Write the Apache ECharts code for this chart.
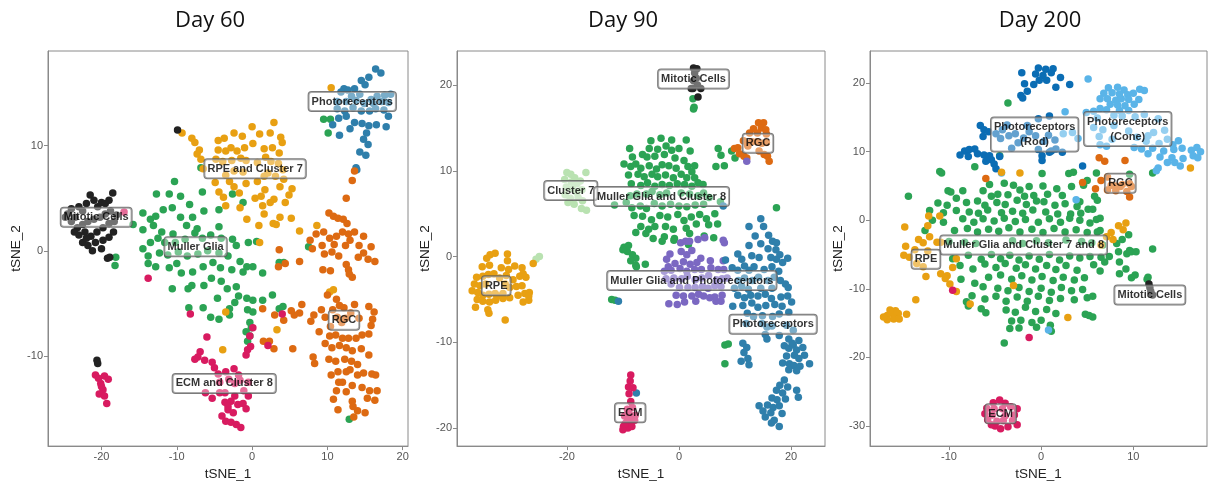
<!DOCTYPE html>
<html><head><meta charset="utf-8">
<script src="https://cdn.jsdelivr.net/npm/echarts@6/dist/echarts.min.js"></script>
<style>html,body{margin:0;padding:0;background:#fff}#c{width:1211px;height:486px}</style>
</head><body><div id="c"></div>
<script>
// ---------------- tick labels ----------------
const titles = ['Day 60', 'Day 90', 'Day 200'];
const d60XTicks = [-20, -10, 0, 10, 20];
const d60YTicks = [-10, 0, 10];
const d90XTicks = [-20, 0, 20];
const d90YTicks = [-20, -10, 0, 10, 20];
const d200XTicks = [-10, 0, 10];
const d200YTicks = [-30, -20, -10, 0, 10, 20];

// ---------------- Day 60 ----------------
const d60Mitotic = [[-24.5,3.5],[-24,4],[-23.5,3.2],[-23,4.2],[-22.5,3.8],[-22,4.5],[-21.5,5.3],[-21,4.8],[-20.5,4.2],[-20,4.6],[-19.5,4.5],[-19,4.8],[-18.5,5.5],[-18.8,3.8],[-19.5,3.5],[-20.2,3.2],[-21,3],[-21.8,2.8],[-22.5,2.5],[-23.2,2.2],[-24,2.8],[-24.8,3.2],[-23,1.5],[-22.2,1.8],[-21.4,1.4],[-20.6,1.8],[-19.8,2.2],[-19,2.6],[-18.3,2.8],[-18,3.4],[-22.5,0.8],[-21.8,0.5],[-20.8,0.8],[-19.8,1],[-19,1.3],[-18.4,1.8],[-21.2,0],[-20,0.2],[-19.2,-0.7],[-18.9,-0.6],[-22,1.2],[-23.6,1.8],[-9.9,11.5],[-20.6,-10.4],[-20.5,-10.7]];
const d60Muller = [[-10.3,6.6],[-12.7,5.4],[-11,5.4],[-9.5,5.2],[-8.3,4.4],[-6.6,5.6],[-6.4,3.8],[-4.4,3.9],[-2.6,5.4],[-1.2,4.6],[-15.8,2.5],[-14.5,3.6],[-13.5,3],[-12.8,3.3],[-11.8,3.9],[-10.6,4.1],[-9.5,3.2],[-8.7,2.4],[-7.9,3.2],[-7.3,2.1],[-14.5,2],[-13.1,2.4],[-12,1.8],[-10.5,1.6],[-13.5,0.8],[-12.5,1.2],[-11.6,0.8],[-10.2,0.8],[-8.9,1.1],[-7.6,1.7],[-6.6,1.2],[-5.5,1.5],[-4.4,2.3],[-4.1,1.2],[-2.6,1.1],[-2.1,0.5],[-0.5,0.8],[0.6,0.9],[-14.5,0.2],[-13.8,-0.5],[-12.3,-0.2],[-11.2,-0.4],[-9.8,-0.1],[-8.6,-0.5],[-7.2,-0.3],[-5.9,0],[-4.4,-0.2],[-3.2,-0.5],[-1.6,-1],[-13.8,-1.2],[-12.8,-1.5],[-11,-1.6],[-10,-1.2],[-9.4,-2.1],[-7.9,-2],[-6.5,-1.5],[-5.2,-1.1],[-4.2,-1.6],[-2.7,-1.8],[-1.2,-2],[-0.7,-1.5],[0.1,-1.5],[1.4,-2.1],[-10.6,-3.6],[-8.5,-3.6],[-8,-3.3],[-6.4,-3.3],[-5.4,-2.6],[-4.1,-2.9],[-3.3,-3.6],[-2.1,-3.4],[-1.8,-4.3],[-0.7,-4.5],[0.1,-4.7],[1.4,-4.7],[2.7,-4.2],[-8.4,-5.4],[-6.5,-5.4],[-4.6,-4.5],[-3,-5.5],[-2.3,-4.9],[-0.6,-5.6],[0.1,-5.8],[-5.5,-6.3],[-4.4,-6.5],[-3,-6.1],[-0.3,-6.8],[-0.1,-7.3],[-0.3,-8.1],[-0.6,-8.6],[3.6,-5.5],[4.1,-5.3],[-0.8,-7.7],[-18.2,-1.4],[-18.1,-0.6],[-6.8,7.9],[7.5,0.4],[9.5,12.5],[10.4,12.5],[10.1,11.2],[12.9,-16],[3.6,-1.1],[4.2,-1.1]];
const d60RPE = [[-9.3,11.2],[-8,10.7],[-7.6,10.3],[-7,9.6],[-7.3,9.2],[-6.8,8.7],[-6.5,7.8],[-4.5,10.5],[-3.7,10.7],[-2.4,11.2],[-1.3,10.9],[0,11.8],[1,11.1],[2.4,11.2],[2.9,12.2],[3.8,10.8],[4,10.3],[-4.5,9.6],[-3.5,9.5],[-2.8,9.8],[-2,9.5],[-1,9.8],[0.1,10.2],[1.6,9.7],[2.7,9.8],[3.6,9.3],[-4.8,8.7],[-3.9,8.5],[-2.7,8.6],[-1.5,8.8],[-0.8,8.6],[0.7,8.4],[1.8,8.9],[2.5,8.5],[3.5,8.3],[4.1,7.7],[-3.5,7.2],[-2.4,7.6],[-1.2,7.5],[1.6,7.1],[2.1,7.4],[3.1,7.1],[4.2,6.8],[-4.9,6.5],[-3,6.6],[-2.4,6.1],[-0.8,6.4],[0.7,6.6],[1.7,5.8],[3.7,6.1],[5.3,5.9],[-4.4,5.6],[-3.8,5.1],[-1.7,5.5],[0.4,5],[1.2,5.2],[2.9,4.9],[4.9,5.3],[-3.5,4.3],[-1.6,4.1],[1.4,4.3],[2.4,4.6],[4.4,4.6],[-0.7,3],[1.6,3.5],[3.7,3.2],[5.2,3.1],[0.9,2.4],[2.8,2.6],[3.2,2.5],[6.3,1.9],[8.6,2.4],[-3.5,-5.8],[-3.9,-9.4],[3.3,-7.5],[10.3,-3.9],[10.8,-3.7],[10.5,15.5],[1.0,0.8]];
const d60Photo = [[16.4,17.3],[17.1,16.9],[15.5,16.5],[14.5,16.2],[15,15.8],[13.6,15.4],[12.2,15.4],[12.7,15.3],[11.8,15.1],[13.2,14.7],[14.3,14.9],[15.8,14.4],[16.6,14.7],[17.6,14.8],[18.4,14.9],[11.3,14.2],[12.5,14.2],[13.8,14.3],[14.9,14],[16.1,14],[17.2,14.2],[18.1,14.1],[11.3,13.5],[12.3,13.3],[13.4,13.6],[14.5,13.3],[15.6,13.3],[16.4,13.5],[17.5,13.4],[18.1,12.8],[10.7,12],[11.5,12.6],[13.6,12.2],[14.6,12.1],[15.5,11.9],[16.5,12],[17.8,11.8],[13,11.6],[15.2,11.2],[11.6,11],[14.8,10.6],[15.4,10.1],[14.3,9.4],[15.1,9.1],[13.8,7.9],[13.9,7.7],[12.5,12.8]];
const d60RGC = [[13.3,6.7],[13.6,7.6],[12.5,5],[10.2,3.6],[10.8,3.3],[11.4,3.1],[12.1,3],[12.6,2.6],[9.5,1.8],[12,1.8],[12.8,1.6],[13,1],[13.6,1.8],[14.8,1.4],[15.8,0.4],[8.5,1.6],[7.7,1],[8,0.2],[9.3,0.5],[10.3,1.2],[11.2,1.4],[10.9,0.6],[12.4,0.5],[14.2,0.5],[14.8,-0.2],[14.1,-0.6],[16.3,-1],[15.4,-0.8],[9.6,-0.3],[10.6,-0.1],[11.5,-0.5],[12.5,-1.3],[12.8,-1.8],[13.3,-2.5],[12.9,-2.2],[9.4,-1.8],[10.4,-1.9],[3.6,0.1],[3.5,-1.5],[6.3,-1],[4.4,-1.2],[10,-4.2],[11.2,-4.6],[11.6,-5.2],[12.2,-5.4],[13.6,-5.1],[15.5,-5.3],[16.2,-5.8],[10.7,-5.6],[9.2,-5.6],[9.7,-6.3],[11.3,-6.3],[12.4,-6.4],[13.1,-5.9],[6.6,-5.1],[6.3,-5.9],[5.6,-6.1],[5.2,-5.7],[8.2,-6.1],[7.8,-6.7],[10.4,-7.2],[11.9,-6.8],[14.2,-6.4],[15.8,-7.1],[16,-6.5],[8.9,-7.7],[10.3,-8.1],[11.1,-8],[12,-8.3],[12.8,-8.3],[13.8,-8.3],[14.6,-8],[15.5,-7.9],[9.7,-8.8],[10.6,-9.2],[11.6,-9],[12.5,-9.2],[13.3,-9.5],[14.5,-9.3],[15.5,-9.9],[10.2,-10.3],[11.1,-10.5],[12.3,-10.3],[13.2,-10.5],[14,-10.8],[8.1,-10.1],[8.3,-10.7],[11.4,-11.5],[12.5,-11.5],[13,-11.3],[14,-11.8],[14.8,-11.6],[15.9,-11.7],[16.4,-11.8],[10.5,-11.8],[12,-12.5],[11.5,-12.5],[13.3,-12.8],[14.6,-13],[15.6,-13.3],[16.6,-13.3],[11.2,-13.3],[12.5,-13.4],[10.8,-14.1],[13.3,-14.3],[15.3,-14],[16.3,-14.2],[14,-15.2],[15,-15.4],[13.5,-15.8],[11.4,-15.1],[13.4,-14.8],[1.5,-8.6],[2.3,-8.6],[2.9,-9.3],[5.4,-9.3],[3,-6.1],[1.4,-5.5],[4.2,-6.6]];
const d60ECM = [[-8.2,-6],[-13.8,-2.6],[0.1,-7.3],[-0.3,-8.1],[-6.0,-8.2],[4,-6],[2.1,-9],[-0.6,-9.4],[-0.2,-9.1],[-0.8,-9.9],[-6.9,-9.6],[-7.2,-10.1],[-7.6,-10.3],[-6.3,-10.4],[-5.3,-10.6],[-5,-11.1],[-4.5,-11.7],[-3.5,-11.5],[-2.4,-11.2],[-1.8,-11.8],[-3.1,-12.2],[-2.3,-12.6],[-4.3,-12.5],[-1.6,-12.3],[-0.5,-12.5],[-6.2,-13.5],[-4.3,-13.5],[-3.6,-13.5],[-2.3,-13.8],[-1.1,-13.3],[-0.5,-13.8],[-5.3,-14],[-3.6,-14.4],[-2.8,-14.3],[-1.9,-14.6],[-1.2,-14.5],[-0.8,-15],[-3.2,-15.1],[-2.5,-15.4],[-4,-15.7],[-3.5,-16.2],[-2.8,-16.3],[-2.1,-16.5],[-1.5,-16.8],[-3.2,-14.8],[-20.8,-11.8],[-20.4,-12.1],[-19.6,-11.9],[-19.1,-12.2],[-20.1,-12.6],[-19.8,-13.2],[-20.3,-13.6],[-19.6,-13.8],[-19.3,-14.5],[-20.0,-12.9],[-17,3.7]];
const d60LabelNames = ['Photoreceptors', 'RPE and Cluster 7', 'Mitotic Cells', 'Muller Glia', 'RGC', 'ECM and Cluster 8'];
const d60LabelPos = [[13.3,14.2],[0.4,7.8],[-20.7,3.2],[-7.5,0.4],[12.2,-6.6],[-3.7,-12.6]];

// ---------------- Day 90 ----------------
const d90Mitotic = [[2.6,22],[3.2,21.9],[2.8,21.4],[3.1,20.8],[2.6,20.5],[3.3,20],[2.5,19.6],[3.9,19.6],[2.2,19.6],[3.4,18.6]];
const d90Muller = [[2.5,18.4],[2.7,17.4],[2.6,17.2],[7,12.6],[7.5,11.8],[6.6,10.5],[8.1,10.6],[9.4,12.3],[10,11.5],[-5,13.5],[-3.2,13.8],[-1.3,13.6],[1.3,13.6],[-5.3,12.6],[-3.8,12.5],[-2.3,12.9],[-1.3,12.4],[0,12.6],[2,12.3],[-8.8,12.6],[-8.3,11.6],[-6.5,11.9],[-5.7,11.6],[-4.3,11.7],[-2.6,11.9],[-0.7,11.5],[0.9,11.2],[2.8,10.6],[-9.8,10.8],[-8.6,10.5],[-7.7,10.8],[-6.8,10.3],[-5.3,10.6],[-4,10.2],[-3,10.7],[-1.8,10.6],[-0.5,10.3],[1.6,10.5],[2.3,9.9],[-9,9.5],[-7.3,9.6],[-6.2,9.3],[-4.8,9.6],[-3.8,9.3],[-2.4,9.5],[-1,9.2],[0.4,9.6],[1.4,9.2],[2.8,9.2],[-8.5,8.5],[-6.8,8.3],[-5.6,8.6],[-4.3,8.2],[-3,8.4],[-1.7,8.3],[-0.3,8.5],[1,8.4],[2.3,8.2],[3.4,8.6],[4.3,8.4],[-8.7,7.1],[-7.5,7.3],[-5.8,7.3],[-4.8,7.6],[-3.4,7.2],[-2.2,7.4],[0.4,7.4],[1.9,7.3],[3.4,7.1],[4.4,7.4],[5.4,6.9],[-11.5,6],[-9.4,6.3],[-8.4,5.7],[-6.9,5.9],[-5.8,5.6],[-4.4,6.2],[-3,5.9],[-1.5,6.1],[0,5.9],[1.4,5.8],[2.9,6],[4.4,6.1],[-8,4.8],[-6.5,4.7],[-4.9,4.3],[-3.4,4.8],[-2,4.6],[-0.2,4.9],[0.9,4.2],[2.2,4.6],[3.7,4.9],[4.9,4.4],[6.4,5],[-6.8,3.5],[-5.4,3.2],[-4.3,3.5],[-2.4,3.5],[-1,3.2],[1.3,3.3],[3.1,3.8],[5.3,3.7],[6.9,3.8],[-7.7,2.8],[-5.9,2.7],[-4.6,2.1],[-2.6,2.3],[-0.8,2.1],[1.9,2.7],[4.5,2.4],[6.2,2.2],[-3,1.8],[-0.9,1.9],[1.7,1.4],[-9.8,1.1],[-9.2,0.6],[-8.3,0.2],[-7.7,-0.2],[-9,1.3],[-8.6,-0.5],[-7.7,-1],[-7.6,-1.2],[-6,-0.9],[-10,0.8],[-12,-5],[-11.4,-5.1],[8.2,-10.3],[8.8,-10.2],[8.2,-12.5],[17.4,5.7],[7.4,6.4]];
const d90RGC = [[14.2,15.6],[15.1,15.6],[14.7,15],[15.5,14.8],[13.3,14.9],[12.6,14.4],[14,14.4],[15.6,14.3],[11.5,13.5],[12.2,13.1],[13,13.4],[13.9,13.4],[14.8,13.2],[15.6,13.3],[12.3,12.9],[9.9,12.6],[10.5,12.7],[10.8,12],[11.6,11.7],[12.1,11.5],[14.3,12.3],[15.2,11.9],[15.8,11.7],[16.1,11.1]];
const d90Cluster7 = [[-20,9.8],[-19.3,9.6],[-18.6,9.2],[-16.6,9.8],[-20.4,9],[-19.2,8.7],[-18.2,8.5],[-17.6,8.8],[-20.1,8.1],[-19,7.9],[-18.3,7.5],[-17.3,7.8],[-20.3,7.2],[-19.4,6.8],[-18,6.9],[-17.2,6.5],[-19.8,6.3],[-17.4,5.6],[-16.5,5.4],[-18.7,6.1],[-24.9,0],[-25.5,-0.3]];
const d90RPE = [[-33.7,0.2],[-32.8,0.4],[-30.6,0.3],[-34.3,-0.2],[-30.6,-0.5],[-35.1,-1.2],[-33.8,-1],[-31.7,-1.3],[-30.4,-1.5],[-29.3,-1.1],[-28,-1.3],[-36.1,-2.4],[-35,-2.3],[-34,-2.1],[-33,-2],[-32,-2.5],[-30.8,-2.2],[-29.6,-2.7],[-28.4,-2.3],[-27.3,-2.4],[-36.5,-3.2],[-35.5,-3.4],[-34.5,-3.2],[-31,-3.2],[-30.2,-3.6],[-29,-3.5],[-28,-3.4],[-36.9,-4],[-35.9,-4.2],[-35,-4.5],[-33.9,-4.4],[-32.8,-4.3],[-31.4,-4.3],[-30.2,-4.8],[-28.7,-4.5],[-27.5,-4.3],[-26.7,-4.2],[-36,-5],[-35,-5.2],[-33.8,-5.3],[-32.7,-5.1],[-31.4,-4.9],[-27.8,-5.3],[-26.8,-5.1],[-36.3,-5.9],[-34.1,-6.2],[-33.9,-6.6],[-31,-7.4],[-26.8,-4.6],[-26,-0.8],[-27.8,-2],[-32.3,-4.6]];
const d90ECM = [[-8.6,-13.8],[-8.7,-14.5],[-9,-15.2],[-8.2,-15.3],[-8.9,-16],[-8.6,-16.9],[-8.3,-17.6],[-9.2,-17.8],[-8.9,-18.3],[-9.7,-18.6],[-8.5,-18.8],[-7.8,-18.5],[-9.3,-19.3],[-8.6,-19.3],[-7.9,-19.1],[-9.9,-19.8],[-9.1,-20],[-8.4,-19.8],[-10,-20.2],[-9.6,-19.5],[-8.9,-18.8]];
const d90MGPhoto = [[0.3,1.6],[1.2,1.8],[1.9,1.8],[3.4,2],[4.6,2.2],[7.9,1.9],[8.1,1.6],[-1.6,0.3],[0.4,0.6],[1.4,0.2],[2.3,0.7],[3.9,-0.2],[-2.2,-0.3],[-0.7,-0.8],[0.8,-0.6],[2,-0.9],[3.2,-0.7],[5.6,-0.5],[7.9,-0.5],[-1.9,-1.2],[-2.6,-1.7],[-1.4,-1.6],[0.2,-1.4],[1.4,-1.7],[2.8,-1.5],[4,-1.5],[5.7,-1.3],[7,-1.5],[8,-1.5],[-2.3,-2.6],[-0.9,-2.5],[0.5,-2.6],[1.5,-2.3],[2.9,-2.7],[4.1,-2.5],[5.3,-2.2],[6.7,-2.7],[8.6,-2.5],[-1.4,-3.2],[0.1,-3.6],[1.6,-3.6],[2.9,-3.6],[4.2,-3.5],[5.2,-3.7],[6.4,-3.4],[7.5,-3.5],[-0.5,-4.5],[0.8,-4.6],[2.3,-4.6],[3.5,-4.4],[4.4,-4.6],[5.5,-4.8],[6.4,-4.7],[7.7,-4.5],[-1.8,-5.5],[-0.3,-5.6],[1,-5.3],[3,-5.2],[6.6,-5.2],[7.5,-5.2],[7.7,-2.6],[12.1,11.1]];
const d90Photo = [[12.5,3.5],[14.6,4.4],[15.1,3.5],[13.6,2.4],[16,2.5],[16.7,1.8],[17.4,1.6],[12.5,1.3],[14.6,1.5],[15.9,0.9],[17.3,0.8],[18,0.2],[8.3,-0.4],[10.5,0.3],[11.2,-0.3],[13,0.1],[14.3,-0.1],[16.4,-0.1],[17.4,-0.3],[19.4,-0.2],[18.5,-0.7],[9.5,-1.3],[10.5,-1.6],[11.7,-1.1],[12.5,-1.6],[13.4,-1.2],[15.2,-1.5],[16.6,-1.2],[17.8,-1.7],[10.6,-2.8],[11.7,-2.5],[13.1,-2.8],[14.2,-2.4],[15.9,-2.8],[17,-2.4],[18.1,-2.8],[9.9,-3.7],[11.2,-3.5],[12.4,-3.8],[14.6,-3.7],[16.6,-3.7],[19.5,-3.6],[19,-3.2],[10.5,-4.5],[11.7,-4.8],[12.8,-4.5],[14.1,-4.6],[15.4,-4.4],[16.5,-4.9],[18.2,-4.7],[19.4,-4.6],[9.6,-5.8],[11.4,-5.7],[13,-5.4],[14.1,-5.9],[15.5,-5.7],[17.1,-5.6],[18.4,-5.8],[20.1,-5.3],[12.2,-6.6],[13.3,-7],[14.9,-6.9],[16.7,-7],[17.9,-6.7],[19.6,-6.5],[12,-7.8],[14.8,-7.8],[15.7,-8.2],[16.6,-8.1],[19.2,-8],[20.4,-8.6],[15.4,-9.1],[17.9,-9.2],[19.6,-9.6],[21.4,-9.8],[15.7,-9.6],[11.4,-10.1],[12.1,-10.6],[11.6,-11.2],[12.3,-11.9],[11.1,-12.2],[12.5,-12.6],[18.8,-10.4],[19.6,-10.7],[20.4,-10.3],[21,-10.9],[22.1,-10.6],[22.4,-11.5],[19.2,-11.6],[20.6,-11.5],[21.4,-11.9],[18.5,-12.4],[19.7,-12.5],[20.5,-12.7],[21.6,-12.8],[23.3,-12.5],[19.6,-13.2],[21,-13.3],[20.2,-10.1],[18.8,-14.4],[18,-15],[19.4,-15.2],[17.4,-15.6],[18.5,-15.9],[21,-15.6],[21.3,-16.4],[16.6,-16.5],[17.5,-16.7],[19,-16.6],[15.8,-17.3],[16.8,-17.6],[17.9,-17.4],[14.3,-17.4],[15,-18],[16.4,-18.2],[18.4,-18.3],[15.4,-18.7],[17,-19.1],[17.9,-19.8],[16.5,-19.4],[7.9,5.9],[-10.8,-5.2],[-7.6,-15.9]];
const d90LabelNames = ['Mitotic Cells', 'RGC', 'Cluster 7', 'Muller Glia and Cluster 8', 'RPE', 'Muller Glia and Photoreceptors', 'Photoreceptors', 'ECM'];
const d90LabelPos = [[2.6,20.7],[14.1,13.2],[-19.3,7.7],[-3.1,7.0],[-32.6,-3.4],[2.3,-2.8],[16.8,-7.9],[-8.7,-18.2]];

// ---------------- Day 200 ----------------
const d200Muller = [[-3.6,17.1],[-4.5,9.4],[-7.2,7.8],[-11.0,7.1],[-10.8,6.9],[0.1,6.8],[3.0,6.8],[3.5,7.0],[9.6,6.7],[12.1,6.9],[-5.6,5.2],[-4.0,5.4],[-3.0,5.1],[-2.3,4.4],[-1.3,4.9],[0.2,5.0],[1.7,4.6],[3.3,4.9],[4.6,5.1],[-10.1,4.3],[-9.8,4.1],[-8.5,4.3],[-6.3,4.3],[-5.4,3.5],[-4.7,3.8],[-3.6,3.7],[-1.8,3.5],[-0.8,3.6],[0.7,3.8],[2.3,3.6],[6.1,2.9],[-14.4,3.5],[-9.2,3.2],[-11.2,2.5],[-10.2,2.2],[-8.1,2.6],[-6.9,2.8],[-6.1,2.2],[-4.8,2.6],[-3.9,2.3],[-2.6,2.9],[-1.6,2.3],[-0.5,2.8],[0.3,2.7],[1.5,2.2],[2.6,2.4],[3.9,2.0],[5.1,1.6],[5.6,1.6],[-12.1,1.4],[-10.6,1.1],[-9.2,1.4],[-7.8,1.2],[-6.8,1.0],[-5.8,1.5],[-4.3,1.1],[-3.1,1.3],[-2.0,1.0],[-0.9,1.5],[0.5,1.2],[1.8,0.9],[3.2,0.9],[4.3,1.0],[-11.8,0.0],[-10.6,-0.3],[-8.5,0.2],[-7.3,-0.3],[-6.3,0.2],[-5.1,-0.1],[-4.0,0.3],[-2.8,-0.2],[-1.7,0.1],[-0.3,-0.3],[0.9,0.2],[2.1,-0.3],[3.1,0.3],[4.2,0.0],[5.3,-0.4],[6.0,0.1],[-12.6,-1.5],[-9.4,-1.5],[-8.0,-1.2],[-6.9,-1.7],[-5.7,-1.3],[-4.6,-1.6],[-3.5,-1.1],[-2.3,-1.7],[-1.0,-1.3],[0.2,-1.8],[1.4,-1.2],[2.6,-1.7],[3.8,-1.4],[5.0,-1.8],[6.4,-1.5],[-10.0,-3.1],[-8.3,-3.2],[-7.1,-3.4],[-3.1,-3.0],[-2.0,-3.4],[-0.5,-3.0],[0.8,-3.3],[2.7,-2.9],[4.4,-3.1],[5.5,-3.3],[8.2,-3.4],[-9.6,-5.6],[-7.9,-5.1],[-6.5,-5.7],[-5.4,-5.0],[-4.4,-5.6],[-3.4,-5.1],[-2.4,-5.8],[-1.3,-5.2],[-0.2,-5.7],[0.9,-5.0],[2.0,-5.8],[3.1,-5.2],[4.2,-5.5],[5.3,-5.3],[6.5,-5.4],[6.9,-6.1],[9.3,-4.9],[9.8,-4.6],[8.4,-4.6],[-8.8,-6.6],[-7.4,-7.1],[-6.1,-6.4],[-4.9,-6.9],[-3.9,-6.3],[-2.7,-7.0],[-1.7,-6.5],[-0.6,-7.1],[0.6,-6.6],[1.6,-7.2],[2.7,-6.6],[3.9,-7.3],[5.7,-6.5],[6.4,-7.4],[8.5,-7.8],[9.8,-8.4],[11.5,-8.6],[-5.7,-8.3],[-4.4,-8.0],[-3.2,-8.6],[-2.1,-8.1],[-1.0,-8.7],[0.1,-8.2],[1.3,-8.8],[2.4,-8.3],[3.6,-8.7],[4.7,-8.4],[-8.7,-8.6],[-7.2,-9.2],[-6.3,-9.7],[-4.7,-9.9],[-3.6,-10.3],[-2.4,-9.8],[-1.3,-10.4],[0.0,-9.9],[1.1,-10.5],[2.2,-9.8],[3.3,-10.3],[4.5,-10.1],[5.6,-11.1],[-7.5,-11.0],[-6.1,-11.5],[-4.9,-11.1],[-3.8,-11.8],[-2.6,-11.2],[-1.5,-11.8],[-0.3,-11.1],[0.9,-11.7],[2.1,-11.4],[3.6,-11.6],[5.0,-11.3],[-8.1,-11.9],[-7.9,-12.5],[-6.5,-12.9],[-6.0,-13.5],[-3.8,-13.1],[-2.8,-13.4],[-1.7,-12.7],[-0.6,-13.3],[0.6,-13.0],[1.6,-13.6],[4.8,-13.7],[5.2,-13.9],[5.6,-14.1],[-3.2,-14.7],[-2.2,-14.6],[-1.0,-14.9],[0.0,-14.6],[1.0,-15.3],[-3.4,-15.8],[-0.5,-15.6],[1.1,-16.2],[-4.0,-17.9],[-2.4,-15.7],[12.1,-4.2],[9.5,-2.1],[8.8,-2.8],[10.3,-4.6],[7.4,-5.3],[11.6,-8.3],[10.2,-8.0],[9.2,-7.1],[8.5,-6.1],[6.7,-3.6],[6.1,-1.7],[6.4,0.3],[9.6,-4.4],[6.0,6.9],[5.0,5.8],[5.8,3.5],[4.2,2.7]];
const d200Rod = [[-0.3,22.2],[0.5,22],[1.3,22.1],[-2.1,21.5],[-0.6,21.3],[0.2,21.1],[1.1,21.5],[-0.2,20.4],[0.6,20.4],[2.1,20.8],[-1.8,19.9],[-0.8,19.8],[1.6,19.4],[3.1,19.8],[-2.2,18.2],[-1.5,18.8],[-2,17.8],[-0.3,14.8],[0.9,15.2],[-6.6,13.8],[-6.2,13.2],[-6.3,12.2],[-1.3,12.9],[1.5,11.7],[-8.3,10.1],[-7.8,10.3],[-7.2,10.4],[-8.8,9.5],[-6.9,9.7],[-6.2,9.5],[-5.6,9.4],[-5.4,8.8],[-6,8.6],[-5.1,8.2],[-7.9,9.3],[-4.9,7.5],[-4.5,9.3],[-0.3,10.3],[0.1,9.4],[0.9,9.9],[1.6,10.4],[2.3,9.9],[0.1,8.7],[-4.9,12.6],[-5.7,12.9],[-3.2,10.5],[4.5,7.9],[-1.5,13.8],[0.8,12.4],[1.1,10.1],[-4.2,13.2],[-3.5,12.3],[-2.8,12.6],[-1.9,12],[-2.5,11.3],[-4.4,11.9],[0.3,11.5],[-0.6,12.3],[-3.7,13.9]];
const d200Cone = [[7.3,19.3],[8.3,19.4],[9,19],[10.7,19.1],[11.2,18.9],[6.8,18.5],[7.7,18.6],[8.5,18.4],[9.4,18.3],[10,18.5],[6.4,17.7],[7.2,17.7],[8.1,17.5],[8.7,17.7],[9.5,17.6],[10.6,17.6],[7.5,16.9],[8.3,16.8],[9.1,16.7],[10.1,16.9],[6.4,16.3],[7.1,16.1],[8.5,16],[9.5,16],[5.7,15.9],[7.9,15.3],[8.8,15.2],[10.2,15.1],[11.2,15.4],[4.9,15.7],[6.1,14.9],[12.7,14.8],[5.1,20.6],[2.6,15.8],[5.7,13.5],[6.7,13.2],[7.9,13.8],[9.5,13],[11.6,12.3],[12.2,12.8],[13.4,13.1],[6.3,12.2],[7.7,11.8],[10.4,12.1],[11.4,11.5],[12.8,11.2],[13.7,11.8],[14.3,11],[14.9,11.6],[10.1,10.6],[10.9,10.4],[12.1,10.5],[13.3,10.1],[14.4,10.3],[15.3,10.5],[16.3,10.2],[16.9,10.6],[17.3,10],[16.5,9.4],[17,9.1],[11.6,9.7],[12.9,9.2],[14.2,9.1],[15.4,9],[13.7,8.4],[14.5,8.4],[15.1,7.9],[12.5,7.2],[12.7,7.6],[4,11.9],[3.4,12.8],[6.4,11],[7.1,10.8],[-4.3,6.9],[3.8,3],[0.8,-16],[2.4,12.6]];
const d200RGC = [[6.3,9.1],[6.9,8.6],[9.1,8.7],[7.2,6.3],[6.5,5.8],[7.6,5.1],[8,5],[8.8,5.2],[9.6,5.3],[9.8,4.9],[7.2,4.4],[8.1,4.3],[9.3,4.2],[9.6,3.4],[8.6,4.9],[5.9,4.6],[4.5,5.5],[-6,6.1]];
const d200RPE = [[-14.8,-1],[-12.3,-0.8],[-12.1,-2.4],[-13.3,-2.8],[-12.8,-3.3],[-14.7,-3.8],[-13.7,-4.3],[-11.3,-3.2],[-12.3,-4.5],[-14.9,-5.1],[-14.3,-5.4],[-13.5,-6.3],[-12.8,-6.8],[-12.5,-8.2],[-9.2,-5.6],[-9.6,-6.9],[-10.2,-8.1],[-9.9,-9.3],[-9.2,-10.4],[-10.9,-7.8],[-10.4,-8.5],[-13.6,-11.6],[-15.5,-13.6],[-14.6,-13.7],[-16.1,-13.6],[-16.7,-13.9],[-16,-14.4],[-16.7,-14.5],[-17.1,-14.1],[-15.8,-13.2],[-16.4,-13.1],[-15.4,-14.4],[-12.2,0.6],[-11,0.6],[-10.9,-3.2],[-4.3,7.0],[-2.3,6.9],[-3,-9.5],[2.9,-14.2],[-7.7,-12.2],[7.1,-2.4],[7.6,-1.8],[8.4,-0.8],[8.9,-1.4],[9.2,-0.4],[7.8,-2.8],[6.5,-3.6],[16.2,7.6]];
const d200ECM = [[-4.5,-26.2],[-5.2,-26.6],[-3.9,-26.7],[-5.9,-27.4],[-5.1,-27.5],[-4.2,-27.5],[-3.3,-27.2],[-2.6,-27.5],[-6.1,-28.2],[-5.3,-28.4],[-3.9,-28.5],[-2.9,-28.4],[-5.8,-29.1],[-4.8,-29.3],[-4.1,-29.2],[-3.1,-29.2],[-2.6,-29.8],[-5,-30],[-4.4,-30.4],[-3.6,-30.1],[-5.4,-29.8],[-9.6,-10.2],[-1.3,-17.1]];
const d200Mitotic = [[11.7,-9.3],[11.8,-9.8],[11.9,-10.4],[12.1,-10.9]];
const d200LabelNames = ['Photoreceptors\n(Rod)', 'Photoreceptors\n(Cone)', 'RGC', 'Muller Glia and Cluster 7 and 8', 'RPE', 'Mitotic Cells', 'ECM'];
const d200LabelPos = [[-0.7,12.5],[9.4,13.3],[8.6,5.4],[-1.9,-3.6],[-12.5,-5.7],[11.8,-10.9],[-4.4,-28.2]];

// ---------------- colours ----------------
const C = {
  black: '#222222', green: '#2ba354', yellow: '#e8a012', blue: '#2f7fab',
  rgc: '#dd6a12', ecm: '#d81b60', purple: '#7b68c2', light: '#b9e2b1',
  rod: '#0b6db4', cone: '#5ab4e8'
};

const FONT = '"Liberation Sans", Arial, Helvetica, sans-serif';
const panels = [
  { grid: {left: 48, top: 51, width: 360, height: 398}, x: [-27.1, 20.7], y: [-18.56, 19.0], xt: d60XTicks, yt: d60YTicks,
    series: [[d60Muller, C.green], [d60RPE, C.yellow], [d60Photo, C.blue], [d60RGC, C.rgc], [d60ECM, C.ecm], [d60Mitotic, C.black]],
    labels: [d60LabelNames, d60LabelPos], title: [210, titles[0]] },
  { grid: {left: 457, top: 51, width: 368, height: 398}, x: [-39.6, 26.06], y: [-22.1, 23.97], xt: d90XTicks, yt: d90YTicks,
    series: [[d90Muller, C.green], [d90Mitotic, C.black], [d90RGC, C.rgc], [d90Cluster7, C.light], [d90RPE, C.yellow], [d90MGPhoto, C.purple], [d90Photo, C.blue], [d90ECM, C.ecm]],
    labels: [d90LabelNames, d90LabelPos], title: [623, titles[1]] },
  { grid: {left: 870, top: 51, width: 337, height: 398}, x: [-18.57, 18.0], y: [-32.93, 24.67], xt: d200XTicks, yt: d200YTicks,
    series: [[d200Muller, C.green], [d200Rod, C.rod], [d200Cone, C.cone], [d200RGC, C.rgc], [d200RPE, C.yellow], [d200ECM, C.ecm], [d200Mitotic, C.black]],
    labels: [d200LabelNames, d200LabelPos], title: [1040, titles[2]] }
];

const grid = [], xAxis = [], yAxis = [], series = [], graphic = [];
panels.forEach((p, i) => {
  grid.push(Object.assign({show: true, borderColor: '#8a8a8a', borderWidth: 1, backgroundColor: 'transparent'}, p.grid));
  const common = {
    type: 'value', gridIndex: i, nameLocation: 'middle',
    nameTextStyle: {fontSize: 13.5, color: '#222', fontFamily: FONT},
    axisLine: {show: true, onZero: false, lineStyle: {color: '#8a8a8a', width: 1}},
    splitLine: {show: false}
  };
  xAxis.push(Object.assign({}, common, {
    min: p.x[0], max: p.x[1], name: 'tSNE_1', nameGap: 19,
    axisTick: {show: true, inside: false, length: 4, lineStyle: {color: '#8a8a8a'}, customValues: p.xt},
    axisLabel: {customValues: p.xt, color: '#555', fontSize: 11, margin: 5, fontFamily: FONT}
  }));
  yAxis.push(Object.assign({}, common, {
    min: p.y[0], max: p.y[1], name: 'tSNE_2', nameGap: 25, nameRotate: 90,
    axisTick: {show: true, inside: false, length: 4, lineStyle: {color: '#8a8a8a'}, customValues: p.yt},
    axisLabel: {customValues: p.yt, color: '#555', fontSize: 11, margin: 5, fontFamily: FONT}
  }));
  p.series.forEach(([data, color]) => {
    series.push({type: 'scatter', xAxisIndex: i, yAxisIndex: i, data: data, symbolSize: 7.5,
      itemStyle: {color: color, opacity: 1}, silent: true, z: 2, animation: false});
  });
  const [names, pos] = p.labels;
  series.push({
    type: 'scatter', xAxisIndex: i, yAxisIndex: i, z: 10, silent: true, animation: false,
    symbolSize: 0.1, itemStyle: {color: 'rgba(0,0,0,0)'},
    data: names.map((n, k) => ({name: n, value: pos[k]})),
    label: {show: true, position: 'inside', formatter: '{b}', fontWeight: 'bold', fontSize: 11,
      color: '#000', fontFamily: FONT, lineHeight: 15, align: 'center',
      backgroundColor: 'rgba(255,255,255,0.45)', borderColor: '#5a5a5a', borderWidth: 1,
      borderRadius: 3, padding: [2, 3]},
    labelLayout: {hideOverlap: false}
  });
  graphic.push({type: 'text', x: p.title[0], y: 21, style: {text: p.title[1], fontSize: 22,
    fontFamily: '"Open Sans", "Noto Sans", sans-serif', fill: '#111', textAlign: 'center', textVerticalAlign: 'middle'}});
});

const chart = echarts.init(document.getElementById('c'), null, {renderer: 'canvas'});
chart.setOption({animation: false, backgroundColor: '#fff', grid, xAxis, yAxis, series, graphic});
</script>
</body></html>
